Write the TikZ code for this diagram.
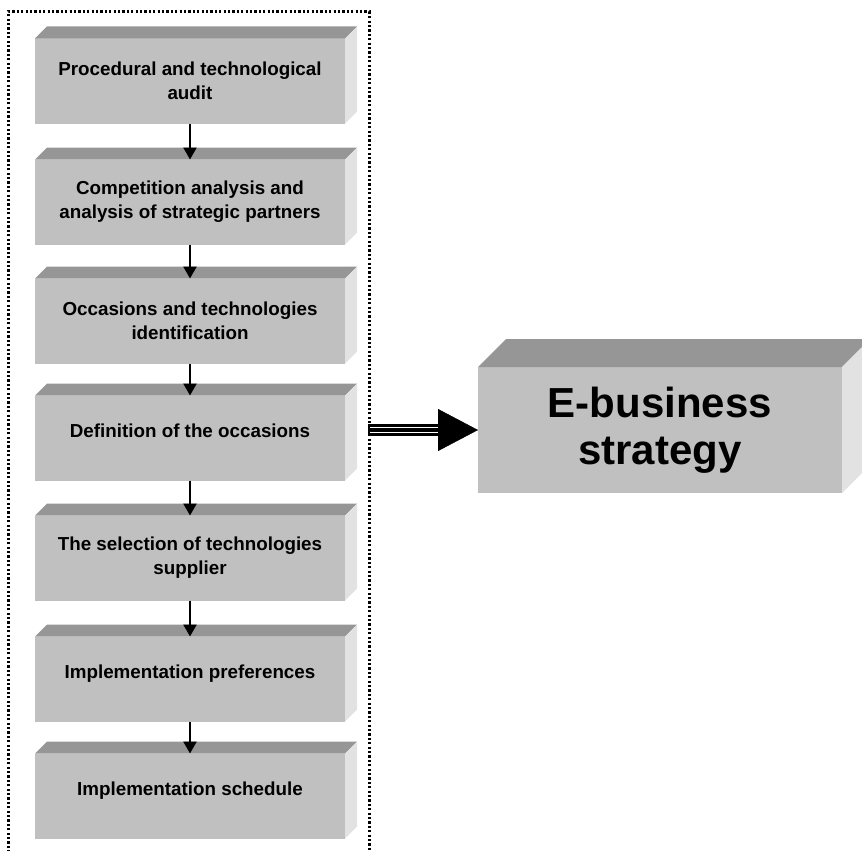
\documentclass[tikz,border=0pt]{standalone}
\usepackage{fontspec}
\setmainfont{Liberation Sans}
\usetikzlibrary{arrows.meta}
\definecolor{facegray}{RGB}{192,192,192}
\definecolor{topgray}{RGB}{150,150,150}
\definecolor{sidegray}{RGB}{226,226,226}

\begin{document}
\begin{tikzpicture}
[x=1pt,y=-1pt
,st/.style={fill=facegray,inner sep=0pt,outer sep=0pt,minimum width=310pt,minimum height=85pt,align=center,font=\bfseries\fontsize{18.8}{24}\selectfont}
,st1/.style={st,text height=13.5pt,text depth=15pt}
,goal/.style={st,minimum width=364pt,minimum height=126pt,font=\bfseries\fontsize{42}{47}\selectfont}
,topf/.style={fill=topgray}
,sidef/.style={fill=sidegray}
,be/.style={line width=2.4pt,arrows={-Triangle[length=12pt,width=13pt]}}
,frame/.style={line width=3pt,dash pattern=on 2.2pt off 2.2pt}
]
\useasboundingbox (0,0) rectangle (862,851);
\draw[frame] (8,870) |- (369,12) -- (369,870);
\node[st] (n1) at (190,81) {Procedural and technological\\audit};
\node[st] (n2) at (190,202) {Competition analysis and\\analysis of strategic partners};
\node[st] (n3) at (190,321) {Occasions and technologies\\identification};
\node[st1] (n4) at (190,438) {Definition of the occasions};
\node[st] (n5) at (190,558) {The selection of technologies\\supplier};
\node[st1] (n6) at (190,679) {Implementation preferences};
\node[st1] (n7) at (190,796) {Implementation schedule};
\node[goal] (eb) at (660,430) {E-business\\strategy};
% 3d faces
\foreach \n/\d in {n1/12,n2/12,n3/12,n4/12,n5/12,n6/12,n7/12,eb/28}{
  \fill[topf] (\n.north west) -- ([shift={(\d,-\d)}]\n.north west) -- ([shift={(\d,-\d)}]\n.north east) -- (\n.north east) -- cycle;
  \fill[sidef] (\n.north east) -- ([shift={(\d,-\d)}]\n.north east) -- ([shift={(\d,-\d)}]\n.south east) -- (\n.south east) -- cycle;
}
\draw[be] (n1) -- (n2);
\draw[be] (n2) -- (n3);
\draw[be] (n3) -- (n4);
\draw[be] (n4) -- (n5);
\draw[be] (n5) -- (n6);
\draw[be] (n6) -- (n7);
% big arrow
\coordinate (src) at (368,430);
\draw[line width=12pt,shorten >=40pt] (src) -- (eb);
\draw[draw=white,double=black,line width=1pt,double distance=4pt,shorten <=2pt,shorten >=40pt] (src) -- (eb);
\draw[arrows={-Triangle[length=40pt,width=42pt]}] (src) -- (eb);
\end{tikzpicture}
\end{document}
